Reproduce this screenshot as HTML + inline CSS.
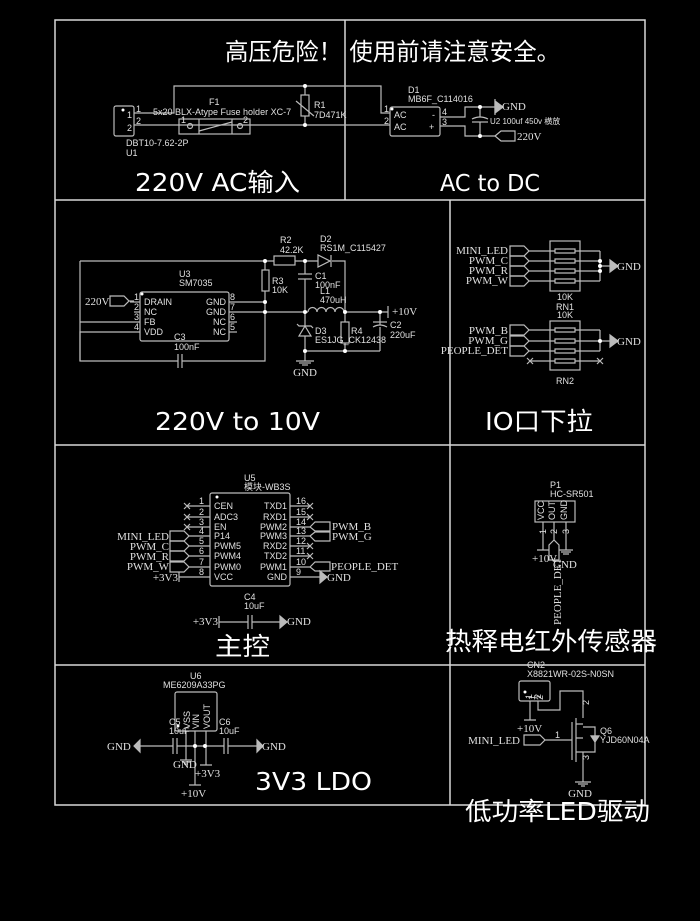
<!DOCTYPE html>
<html><head><meta charset="utf-8"><style>
html,body{margin:0;padding:0;background:#000;}
svg{display:block}
.s{font-family:"Liberation Sans","Noto Sans CJK SC",sans-serif;fill:#e0e0e0;font-size:9px}
.n{font-family:"Liberation Serif",serif;fill:#e0e0e0;font-size:11px}
.t{font-family:"DejaVu Sans","Noto Sans CJK SC",sans-serif;fill:#fff;font-size:25px}
</style></head><body>
<svg width="700" height="921" viewBox="0 0 700 921" xmlns="http://www.w3.org/2000/svg">
<rect width="700" height="921" fill="#000"/>
<g stroke="#d8d8d8" stroke-width="1.5" fill="none">
<rect x="55" y="20" width="590" height="785"/>
<line x1="55" y1="200" x2="645" y2="200"/>
<line x1="55" y1="445" x2="645" y2="445"/>
<line x1="55" y1="665" x2="645" y2="665"/>
<line x1="345" y1="20" x2="345" y2="200"/>
<line x1="450" y1="200" x2="450" y2="805"/>
</g>
<text class="t" x="225" y="60" textLength="335" lengthAdjust="spacingAndGlyphs" style="font-size:24px">高压危险！ 使用前请注意安全。</text>
<text class="t" x="135" y="191" textLength="165" lengthAdjust="spacingAndGlyphs">220V AC输入</text>
<text class="t" x="440" y="191" textLength="100" lengthAdjust="spacingAndGlyphs" style="font-size:23px">AC to DC</text>
<text class="t" x="155" y="430" textLength="165" lengthAdjust="spacingAndGlyphs">220V to 10V</text>
<text class="t" x="485" y="430" textLength="108" lengthAdjust="spacingAndGlyphs">IO口下拉</text>
<text class="t" x="215" y="655" textLength="55" lengthAdjust="spacingAndGlyphs">主控</text>
<text class="t" x="445" y="650" textLength="212" lengthAdjust="spacingAndGlyphs">热释电红外传感器</text>
<text class="t" x="255" y="790" textLength="117" lengthAdjust="spacingAndGlyphs">3V3 LDO</text>
<text class="t" x="465" y="820" textLength="185" lengthAdjust="spacingAndGlyphs">低功率LED驱动</text>

<g stroke="#bbb" stroke-width="1.2" fill="none">
<rect x="114" y="106" width="20" height="30" rx="2"/>
<polyline points="134,113 174,113 174,86 381,86 381,113 390,113"/>
<polyline points="134,125 390,125"/>
<rect x="179" y="119" width="71" height="15"/>
<line x1="199" y1="119" x2="199" y2="134"/><line x1="232" y1="119" x2="232" y2="134"/>
<circle cx="190" cy="126" r="2.5"/><circle cx="240" cy="126" r="2.5"/>
<line x1="199" y1="131" x2="232" y2="122"/>
<line x1="305" y1="86" x2="305" y2="125"/>
<rect x="301" y="95" width="8" height="21" fill="#000"/>
<polyline points="296,101 314,116"/>
<rect x="390" y="107" width="50" height="29" rx="2"/>
<polyline points="440,117 465,117 465,107 495,107"/>
<polyline points="440,126 465,126 465,136 495,136"/>
<line x1="480" y1="107" x2="480" y2="117"/><line x1="480" y1="122" x2="480" y2="136"/>
<path d="M472,119 Q480,115 488,119"/><line x1="472" y1="122" x2="488" y2="122"/>
<polygon points="495,136 501,131 515,131 515,141 501,141"/>
<rect x="140" y="292" width="89" height="49" rx="2"/>
<polyline points="80,322 140,322"/><polyline points="80,261 80,361"/>
<polyline points="80,261 274,261"/><rect x="274" y="256" width="21" height="9"/>
<polyline points="295,261 318,261"/><polyline points="332,261 345,261 345,311"/>
<polygon points="318,255 318,267 330,261"/><line x1="331" y1="255" x2="331" y2="267"/>
<polyline points="140,332 80,332 80,361 178,361"/><polyline points="182,361 265,361 265,261"/>
<line x1="178" y1="354" x2="178" y2="368"/><line x1="182" y1="354" x2="182" y2="368"/>
<rect x="262" y="270" width="7" height="21" fill="#000"/>
<line x1="229" y1="302" x2="265" y2="302"/>
<line x1="229" y1="312" x2="308" y2="312"/>
<line x1="130" y1="302" x2="140" y2="302"/><line x1="134" y1="312" x2="140" y2="312"/>
<line x1="229" y1="322" x2="237" y2="322"/><line x1="229" y1="332" x2="237" y2="332"/>
<polygon points="110,296 124,296 129,301 124,306 110,306"/><line x1="129" y1="301" x2="134" y2="301"/>
<line x1="305" y1="261" x2="305" y2="274"/><line x1="305" y1="279" x2="305" y2="351"/>
<line x1="298" y1="274" x2="312" y2="274"/><line x1="298" y1="279" x2="312" y2="279"/>
<path d="M308,312 a4.5,4.5 0 0 1 9,0 a4.5,4.5 0 0 1 9,0 a4.5,4.5 0 0 1 9,0 a4.5,4.5 0 0 1 9,0"/>
<line x1="344" y1="312" x2="388" y2="312"/>
<polygon points="305,326 299,336 311,336" fill="#000"/><polyline points="297,324 299,326 311,326 313,328"/>
<line x1="345" y1="312" x2="345" y2="351"/><rect x="341" y="322" width="8" height="21" fill="#000"/>
<line x1="380" y1="312" x2="380" y2="351"/>
<path d="M373,327 Q380,323 387,327" fill="#000"/><line x1="373" y1="322" x2="387" y2="322"/>
<line x1="305" y1="351" x2="380" y2="351"/>
<line x1="305" y1="351" x2="305" y2="361"/>
<line x1="296" y1="361" x2="314" y2="361"/><line x1="299" y1="363" x2="311" y2="363"/><line x1="302" y1="365" x2="308" y2="365"/>
<line x1="388" y1="306" x2="388" y2="318"/>
<rect x="550" y="241" width="30" height="50"/>
<rect x="550" y="321" width="30" height="49"/>
</g>
<g stroke="#bbb" stroke-width="1.2" fill="none">
<polygon points="510,246 524,246 529,251 524,256 510,256"/>
<polygon points="510,256 524,256 529,261 524,266 510,266"/>
<polygon points="510,266 524,266 529,271 524,276 510,276"/>
<polygon points="510,276 524,276 529,281 524,286 510,286"/>
<polygon points="510,325 524,325 529,330 524,335 510,335"/>
<polygon points="510,336 524,336 529,341 524,346 510,346"/>
<polygon points="510,346 524,346 529,351 524,356 510,356"/>
<path d="M529,251H600M529,261H600M529,271H600M529,281H600M600,251V281M600,266H610"/>
<path d="M529,330H600M529,341H600M529,351H600M530,361H600M600,330V351M600,341H610"/>
<path d="M555,249h20v4h-20zM555,259h20v4h-20zM555,269h20v4h-20zM555,279h20v4h-20zM555,328h20v4h-20zM555,339h20v4h-20zM555,349h20v4h-20zM555,359h20v4h-20z" fill="#000"/>
<path d="M527,358l6,6M533,358l-6,6M597,358l6,6M603,358l-6,6"/>
</g>
<g stroke="#bbb" stroke-width="1.2" fill="none">
<rect x="210" y="493" width="80" height="93" rx="2"/>
<path d="M187,506H210M187,517H210M187,527H210M189,536H210M189,546H210M189,556H210M189,567H210M179,577H210"/>
<path d="M184,503l6,6M190,503l-6,6M184,514l6,6M190,514l-6,6M184,524l6,6M190,524l-6,6"/>
<polygon points="170,531 184,531 189,536 184,541 170,541"/>
<polygon points="170,541 184,541 189,546 184,551 170,551"/>
<polygon points="170,551 184,551 189,556 184,561 170,561"/>
<polygon points="170,562 184,562 189,567 184,572 170,572"/>
<line x1="179" y1="572" x2="179" y2="582"/>
<path d="M290,506H310M290,517H310M290,527H310M290,536H310M290,546H310M290,556H310M290,567H310M290,577H320"/>
<path d="M307,503l6,6M313,503l-6,6M307,514l6,6M313,514l-6,6M307,543l6,6M313,543l-6,6M307,553l6,6M313,553l-6,6"/>
<polygon points="310,527 315,522 330,522 330,531 315,531"/>
<polygon points="310,536 315,532 330,532 330,541 315,541"/>
<polygon points="310,567 315,562 330,562 330,571 315,571"/>
<line x1="219" y1="616" x2="219" y2="628"/>
<path d="M219,622H248M252,622H280"/>
<line x1="248" y1="615" x2="248" y2="629"/><line x1="252" y1="615" x2="252" y2="629"/>
<rect x="535" y="501" width="40" height="21"/>
<path d="M543,522V550M554,522V540M566,522V550M537,550H549M559,550H573M561,552H571M563,554H569"/>
<polygon points="554,540 549,545 549,560 559,560 559,545"/>
<rect x="519" y="681" width="31" height="20" rx="2"/>
<path d="M530,701V720M524,720H536M538,701V710H560V691H583V718M583,752V782"/>
<path d="M576,718V762M572,722V760M545,740H572M576,724H583M576,752H583M576,738H583"/>
<polygon points="524,735 540,735 545,740 540,745 524,745"/>
<path d="M583,727H595V752H583M595,737V742M591,736h8"/>
<polygon points="595,742 591,736 599,736" fill="#bbb"/>
<path d="M575,782H591M578,784H588M581,786H585"/>
<rect x="175" y="692" width="42" height="39" rx="2"/>
<path d="M140,746H173M177,746H224M228,746H257"/>
<path d="M173,738V754M177,738V754M224,738V754M228,738V754"/>
<path d="M186,731V760M195,731V785M206,731V765M180,760H192M182,762H190M184,764H188M189,785H201M200,765H212"/>
</g>
<g fill="#bbb" stroke="#bbb" stroke-width="1.2">
<polygon points="495,101 495,113 503,107"/><line x1="495" y1="99" x2="495" y2="115"/>
<polygon points="610,260 610,272 618,266"/><polygon points="610,335 610,347 618,341"/>
<polygon points="320,571 320,583 327,577"/><polygon points="280,616 280,628 287,622"/>
<polygon points="257,740 257,752 263,746"/><polygon points="140,740 140,752 134,746"/>
</g>
<g fill="#fff">
<circle cx="123" cy="110" r="1.5"/><circle cx="305" cy="86" r="2"/><circle cx="305" cy="125" r="2"/>
<circle cx="392" cy="109" r="1.5"/><circle cx="480" cy="107" r="2"/><circle cx="480" cy="136" r="2"/>
<circle cx="265" cy="261" r="2"/><circle cx="305" cy="261" r="2"/><circle cx="265" cy="302" r="2"/><circle cx="265" cy="312" r="2"/>
<circle cx="305" cy="312" r="2"/><circle cx="345" cy="312" r="2"/><circle cx="380" cy="312" r="2"/><circle cx="305" cy="351" r="2"/><circle cx="345" cy="351" r="2"/>
<circle cx="142" cy="294" r="1.5"/>
<circle cx="600" cy="261" r="2"/><circle cx="600" cy="266" r="2"/><circle cx="600" cy="271" r="2"/><circle cx="600" cy="341" r="2"/>
<circle cx="217" cy="497" r="1.5"/><circle cx="195" cy="746" r="2"/><circle cx="205" cy="746" r="2"/><circle cx="178" cy="726" r="1.5"/><circle cx="525" cy="692" r="1.5"/>
</g>
<g class="s">
<text x="127" y="118">1</text><text x="127" y="131">2</text><text x="136" y="112">1</text><text x="136" y="124">2</text>
<text x="153" y="115">5x20 BLX-Atype Fuse holder XC-7</text><text x="209" y="105">F1</text>
<text x="314" y="108">R1</text><text x="314" y="118">7D471K</text>
<text x="126" y="146">DBT10-7.62-2P</text><text x="126" y="156">U1</text>
<text x="181" y="123">1</text><text x="243" y="123">2</text>
<text x="408" y="93">D1</text><text x="408" y="102">MB6F_C114016</text>
<text x="384" y="112">1</text><text x="384" y="124">2</text>
<text x="394" y="118">AC</text><text x="394" y="130">AC</text><text x="432" y="118">-</text><text x="429" y="130">+</text>
<text x="442" y="115">4</text><text x="442" y="125">3</text>
<text x="490" y="124" style="font-size:8px">U2  100uf 450v 横放</text>
<text x="280" y="243">R2</text><text x="280" y="253">42.2K</text>
<text x="320" y="242">D2</text><text x="320" y="251">RS1M_C115427</text>
<text x="179" y="277">U3</text><text x="179" y="286">SM7035</text>
<text x="272" y="284">R3</text><text x="272" y="293">10K</text>
<text x="315" y="279">C1</text><text x="315" y="288">100nF</text>
<text x="320" y="294">L1</text><text x="320" y="303">470uH</text>
<text x="315" y="334">D3</text><text x="315" y="343">ES1JG_CK12438</text><text x="351" y="334">R4</text>
<text x="390" y="328">C2</text><text x="390" y="338">220uF</text>
<text x="174" y="340">C3</text><text x="174" y="350">100nF</text>
<text x="144" y="305">DRAIN</text><text x="144" y="315">NC</text><text x="144" y="325">FB</text><text x="144" y="335">VDD</text>
<text x="226" y="305" text-anchor="end">GND</text><text x="226" y="315" text-anchor="end">GND</text><text x="226" y="325" text-anchor="end">NC</text><text x="226" y="335" text-anchor="end">NC</text>
<text x="134" y="300">1</text><text x="134" y="310">2</text><text x="134" y="320">3</text><text x="134" y="330">4</text>
<text x="230" y="300">8</text><text x="230" y="310">7</text><text x="230" y="320">6</text><text x="230" y="330">5</text>
<text x="565" y="300" text-anchor="middle">10K</text><text x="565" y="310" text-anchor="middle">RN1</text><text x="565" y="318" text-anchor="middle">10K</text><text x="565" y="384" text-anchor="middle">RN2</text>
<text x="244" y="481">U5</text><text x="244" y="490">模块-WB3S</text>
<g><text x="214" y="509">CEN</text><text x="214" y="520">ADC3</text><text x="214" y="530">EN</text><text x="214" y="539">P14</text><text x="214" y="549">PWM5</text><text x="214" y="559">PWM4</text><text x="214" y="570">PWM0</text><text x="214" y="580">VCC</text></g>
<g text-anchor="end"><text x="287" y="509">TXD1</text><text x="287" y="520">RXD1</text><text x="287" y="530">PWM2</text><text x="287" y="539">PWM3</text><text x="287" y="549">RXD2</text><text x="287" y="559">TXD2</text><text x="287" y="570">PWM1</text><text x="287" y="580">GND</text></g>
<g><text x="199" y="504">1</text><text x="199" y="515">2</text><text x="199" y="525">3</text><text x="199" y="534">4</text><text x="199" y="544">5</text><text x="199" y="554">6</text><text x="199" y="565">7</text><text x="199" y="575">8</text></g>
<g><text x="296" y="504">16</text><text x="296" y="515">15</text><text x="296" y="525">14</text><text x="296" y="534">13</text><text x="296" y="544">12</text><text x="296" y="554">11</text><text x="296" y="565">10</text><text x="296" y="575">9</text></g>
<text x="244" y="600">C4</text><text x="244" y="609">10uF</text>
<text x="550" y="488">P1</text><text x="550" y="497">HC-SR501</text>
<text transform="translate(544,520) rotate(-90)">VCC</text><text transform="translate(555,520) rotate(-90)">OUT</text><text transform="translate(567,520) rotate(-90)">GND</text>
<text transform="translate(546,534) rotate(-90)">1</text><text transform="translate(557,534) rotate(-90)">2</text><text transform="translate(569,534) rotate(-90)">3</text>
<text x="527" y="668">CN2</text><text x="527" y="677">X8821WR-02S-N0SN</text>
<text transform="translate(532,699) rotate(-90)">1</text><text transform="translate(541,699) rotate(-90)">2</text>
<text transform="translate(535,700) rotate(-90)">1</text><text transform="translate(543,700) rotate(-90)">2</text>
<text transform="translate(589,705) rotate(-90)">2</text><text transform="translate(589,760) rotate(-90)">3</text><text x="555" y="738">1</text>
<text x="600" y="734">Q6</text><text x="600" y="743">YJD60N04A</text>
<text x="190" y="679">U6</text><text x="163" y="688">ME6209A33PG</text>
<text transform="translate(190,729) rotate(-90)">VSS</text><text transform="translate(199,729) rotate(-90)">VIN</text><text transform="translate(210,729) rotate(-90)">VOUT</text>
<text x="169" y="725">C5</text><text x="169" y="734">10uF</text><text x="219" y="725">C6</text><text x="219" y="734">10uF</text>
</g>
<g class="n">
<text x="502" y="110">GND</text><text x="517" y="140">220V</text>
<text x="85" y="305">220V</text><text x="392" y="315">+10V</text><text x="305" y="376" text-anchor="middle">GND</text>
<g text-anchor="end"><text x="508" y="254">MINI_LED</text><text x="508" y="264">PWM_C</text><text x="508" y="274">PWM_R</text><text x="508" y="284">PWM_W</text>
<text x="508" y="334">PWM_B</text><text x="508" y="344">PWM_G</text><text x="508" y="354">PEOPLE_DET</text>
<text x="169" y="540">MINI_LED</text><text x="169" y="550">PWM_C</text><text x="169" y="560">PWM_R</text><text x="169" y="570">PWM_W</text><text x="178" y="581">+3V3</text><text x="218" y="625">+3V3</text>
<text x="520" y="744">MINI_LED</text></g>
<text x="617" y="270">GND</text><text x="617" y="345">GND</text>
<text x="332" y="530">PWM_B</text><text x="332" y="540">PWM_G</text><text x="331" y="570">PEOPLE_DET</text><text x="327" y="581">GND</text><text x="287" y="625">GND</text>
<text x="532" y="562">+10V</text><text x="553" y="568">GND</text>
<text transform="translate(561,625) rotate(-90)">PEOPLE_DET</text>
<text x="517" y="732">+10V</text><text x="580" y="797" text-anchor="middle">GND</text>
<text x="107" y="750">GND</text><text x="262" y="750">GND</text><text x="173" y="768">GND</text><text x="195" y="777">+3V3</text><text x="181" y="797">+10V</text>
</g>
</svg>
</body></html>
